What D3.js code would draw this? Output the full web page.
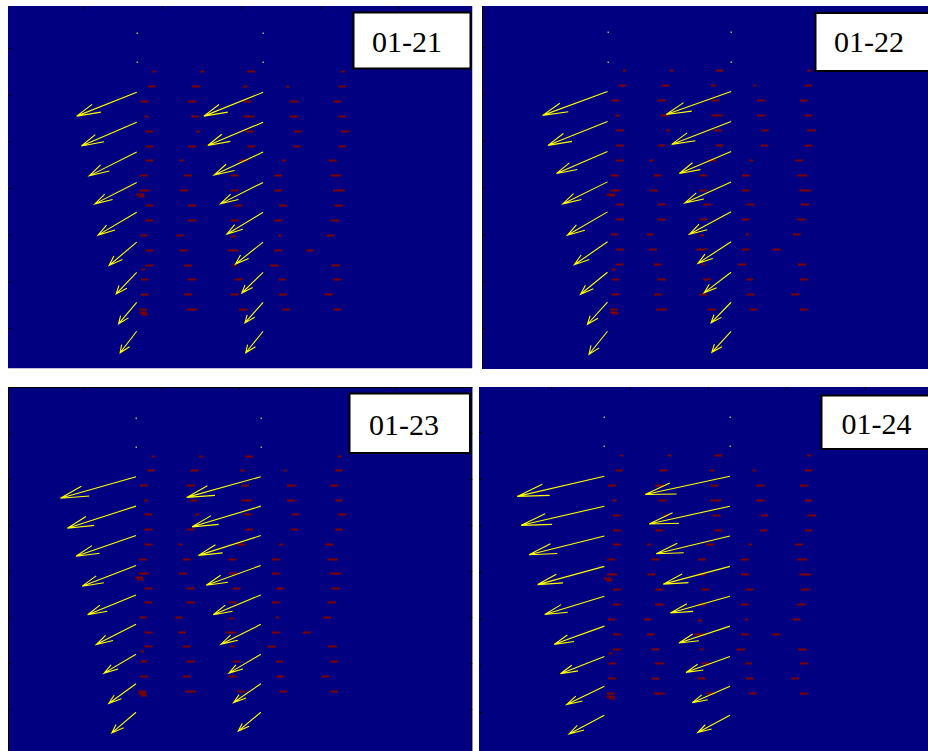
<!DOCTYPE html>
<html>
<head>
<meta charset="utf-8">
<script src="https://cdn.jsdelivr.net/npm/d3@7"></script>
<style>
  body { margin: 0; background: #fff; }
  svg { display: block; }
  .date { font-family: "Liberation Serif", "Times New Roman", Times, serif; font-size: 30px; }
</style>
</head>
<body>
<div id="chart"></div>
<script>
// panel dates
const dates = ["01-21", "01-22", "01-23", "01-24"];

// tick positions (no labels shown)
const xTicks = [1, 2, 3, 4, 5];
const yTicks = [1, 2, 3, 4, 5, 6, 7];

// tails of the wind arrows (data units)
const arrowCols = [1.68, 3.28];
const arrowRows = [7.33, 6.69, 6.05, 5.41, 4.77, 4.12, 3.48, 2.84, 2.19, 1.55, 0.93];

// wind components, per panel -> per column -> per row (top two rows are calm)
const windU = [
  [[0, 0, -0.76, -0.70, -0.60, -0.53, -0.49, -0.35, -0.26, -0.23, -0.21],
   [0, 0, -0.75, -0.70, -0.62, -0.54, -0.46, -0.35, -0.27, -0.23, -0.22]],
  [[0, 0, -0.84, -0.77, -0.66, -0.58, -0.52, -0.43, -0.35, -0.26, -0.24],
   [0, 0, -0.84, -0.77, -0.67, -0.60, -0.54, -0.43, -0.35, -0.26, -0.25]],
  [[0, 0, -0.97, -0.88, -0.77, -0.69, -0.62, -0.51, -0.41, -0.35, -0.31],
   [0, 0, -0.95, -0.88, -0.80, -0.70, -0.61, -0.51, -0.41, -0.35, -0.29]],
  [[0, 0, -1.11, -1.06, -0.96, -0.85, -0.76, -0.64, -0.56, -0.48, -0.45],
   [0, 0, -1.08, -1.03, -0.94, -0.85, -0.76, -0.65, -0.56, -0.48, -0.41]]
];
const windV = [
  [[0, 0, -0.51, -0.51, -0.51, -0.46, -0.49, -0.50, -0.46, -0.46, -0.46],
   [0, 0, -0.51, -0.50, -0.49, -0.46, -0.47, -0.47, -0.44, -0.44, -0.46]],
  [[0, 0, -0.51, -0.51, -0.47, -0.47, -0.50, -0.49, -0.47, -0.47, -0.49],
   [0, 0, -0.49, -0.49, -0.47, -0.45, -0.48, -0.46, -0.44, -0.44, -0.45]],
  [[0, 0, -0.47, -0.48, -0.45, -0.45, -0.43, -0.44, -0.41, -0.43, -0.45],
   [0, 0, -0.45, -0.45, -0.43, -0.43, -0.43, -0.43, -0.41, -0.41, -0.41]],
  [[0, 0, -0.43, -0.41, -0.40, -0.39, -0.39, -0.39, -0.37, -0.39, -0.40],
   [0, 0, -0.39, -0.38, -0.38, -0.38, -0.36, -0.36, -0.34, -0.35, -0.37]]
];

// small dark-red observation dashes: [x, y, length]
const obs = [
  [1.90, 6.51, 0.04], [2.51, 6.51, 0.05], [3.13, 6.51, 0.10], [4.29, 6.51, 0.05],
  [1.87, 6.19, 0.09], [2.43, 6.19, 0.10], [3.05, 6.19, 0.06], [3.59, 6.19, 0.04], [4.28, 6.19, 0.09],
  [1.78, 5.87, 0.10], [2.38, 5.87, 0.11], [3.08, 5.87, 0.10], [3.67, 5.87, 0.11], [4.22, 5.87, 0.10],
  [1.81, 5.55, 0.05], [2.42, 5.55, 0.10], [3.10, 5.55, 0.14], [3.67, 5.55, 0.11], [4.28, 5.55, 0.09],
  [1.84, 5.23, 0.10], [2.46, 5.23, 0.05], [3.11, 5.23, 0.10], [3.72, 5.23, 0.09], [4.32, 5.23, 0.11],
  [1.84, 4.91, 0.10], [2.38, 4.91, 0.10], [3.13, 4.91, 0.10], [3.71, 4.91, 0.09], [4.28, 4.91, 0.09],
  [1.84, 4.59, 0.10], [2.25, 4.59, 0.05], [3.03, 4.59, 0.11], [3.54, 4.59, 0.05], [4.16, 4.59, 0.10],
  [1.77, 4.27, 0.10], [2.33, 4.27, 0.10], [2.92, 4.27, 0.10], [3.47, 4.27, 0.10], [4.20, 4.27, 0.13],
  [1.78, 3.95, 0.13], [1.72, 3.87, 0.10], [1.74, 3.83, 0.08], [2.28, 3.95, 0.10], [2.92, 3.95, 0.10], [3.47, 3.95, 0.10], [4.24, 3.95, 0.15],
  [1.84, 3.64, 0.10], [2.38, 3.64, 0.10], [2.97, 3.64, 0.10], [3.53, 3.64, 0.10], [4.24, 3.64, 0.11],
  [1.84, 3.32, 0.10], [2.38, 3.32, 0.11], [2.92, 3.32, 0.10], [3.47, 3.32, 0.10], [4.19, 3.32, 0.11],
  [1.77, 3.00, 0.09], [2.23, 3.00, 0.09], [2.90, 2.98, 0.06], [3.49, 3.00, 0.04], [4.13, 3.00, 0.10],
  [1.84, 2.68, 0.10], [2.27, 2.68, 0.10], [2.90, 2.68, 0.14], [3.47, 2.68, 0.10], [3.87, 2.68, 0.10],
  [1.84, 2.36, 0.10], [1.76, 2.27, 0.05], [2.33, 2.36, 0.10], [2.92, 2.36, 0.05], [3.42, 2.36, 0.11], [4.20, 2.36, 0.11],
  [1.78, 2.04, 0.09], [2.38, 2.04, 0.11], [2.97, 2.04, 0.10], [3.52, 2.04, 0.09], [4.22, 2.04, 0.10],
  [1.78, 1.72, 0.10], [2.33, 1.72, 0.10], [2.92, 1.72, 0.10], [3.53, 1.72, 0.10], [4.11, 1.72, 0.10],
  [1.76, 1.40, 0.10], [1.76, 1.35, 0.10], [1.78, 1.31, 0.08], [2.38, 1.40, 0.14], [3.03, 1.40, 0.11], [3.57, 1.40, 0.10], [4.22, 1.40, 0.10]
];

// Layout of the four panels (pixels)
const W = 928, H = 751;
const panels = [
  { left: 8,   top: 6,   right: 472.5, bottom: 368.5, xr: [83, 399],  yr: [48, 328],  ticks: ["left", "top"],
    frame: [], box: [353.5, 12.5, 117, 56],   label: [407, 52] },
  { left: 482, top: 6,   right: 935,   bottom: 369,   xr: [555, 864], yr: [47, 328],  ticks: ["left"],
    frame: ["left"], box: [815.5, 13, 130, 58],     label: [869, 52] },
  { left: 8,   top: 387, right: 472.5, bottom: 762,   xr: [83, 395],  yr: [433, 709], ticks: ["left", "top", "right"],
    frame: ["top", "left", "right"], box: [349.5, 393.5, 120.5, 59.5], label: [404, 434.5] },
  { left: 479, top: 387, right: 935,   bottom: 762,   xr: [551, 865], yr: [432, 712], ticks: ["left", "top"],
    frame: [], box: [821.5, 395.5, 120, 53.5], label: [876.5, 434] }
];

const svg = d3.select("#chart").append("svg")
    .attr("width", W)
    .attr("height", H);

// MATLAB-style arrowhead proportions
const alpha = 0.33, beta = 0.33;

panels.forEach((p, i) => {
    const x = d3.scaleLinear().domain([1, 5]).range(p.xr);
    const y = d3.scaleLinear().domain([7, 1]).range(p.yr);

    svg.append("clipPath")
        .attr("id", `clip${i}`)
        .append("rect")
        .attr("x", p.left).attr("y", p.top)
        .attr("width", p.right - p.left).attr("height", p.bottom - p.top);

    const g = svg.append("g").attr("clip-path", `url(#clip${i})`);

    // background
    g.append("rect")
        .attr("x", p.left).attr("y", p.top)
        .attr("width", p.right - p.left).attr("height", p.bottom - p.top)
        .attr("fill", "#000080");

    // red observation dashes
    g.selectAll(".obs")
        .data(obs)
        .enter()
        .append("line")
        .attr("class", "obs")
        .attr("x1", d => x(d[0] - d[2] / 2))
        .attr("x2", d => x(d[0] + d[2] / 2))
        .attr("y1", d => Math.round(y(d[1])) + 0.5)
        .attr("y2", d => Math.round(y(d[1])) + 0.5)
        .attr("stroke", "#800000")
        .attr("stroke-width", 2);

    // wind arrows
    const vecs = [];
    arrowCols.forEach((cx, c) => {
        arrowRows.forEach((ry, r) => {
            vecs.push({ x: cx, y: ry, u: windU[i][c][r], v: windV[i][c][r] });
        });
    });

    const line = d3.line().x(d => x(d[0])).y(d => y(d[1]));

    g.selectAll(".calm")
        .data(vecs.filter(d => d.u === 0 && d.v === 0))
        .enter()
        .append("rect")
        .attr("class", "calm")
        .attr("x", d => Math.round(x(d.x)) - 0.5)
        .attr("y", d => Math.round(y(d.y)) - 0.5)
        .attr("width", 1.5).attr("height", 1.5)
        .attr("fill", "#b0b060");

    g.selectAll(".arrow")
        .data(vecs.filter(d => d.u !== 0 || d.v !== 0))
        .enter()
        .append("path")
        .attr("class", "arrow")
        .attr("d", d => {
            const tx = d.x + d.u, ty = d.y + d.v;
            const b1 = [tx - alpha * (d.u + beta * d.v), ty - alpha * (d.v - beta * d.u)];
            const b2 = [tx - alpha * (d.u - beta * d.v), ty - alpha * (d.v + beta * d.u)];
            return line([[d.x, d.y], [tx, ty]]) + line([b1, [tx, ty], b2]);
        })
        .attr("fill", "none")
        .attr("stroke", "#ffff00")
        .attr("stroke-width", 1.1);

    // inward ticks
    const tickG = g.append("g").attr("class", "ticks");
    if (p.ticks.includes("left")) {
        tickG.append("g")
            .attr("transform", `translate(${p.left},0)`)
            .call(d3.axisLeft(y).tickValues(yTicks).tickSize(-3).tickFormat(""));
    }
    if (p.ticks.includes("right")) {
        tickG.append("g")
            .attr("transform", `translate(${p.right},0)`)
            .call(d3.axisRight(y).tickValues(yTicks).tickSize(-3).tickFormat(""));
    }
    if (p.ticks.includes("top")) {
        tickG.append("g")
            .attr("transform", `translate(0,${p.top})`)
            .call(d3.axisTop(x).tickValues(xTicks).tickSize(-3).tickFormat(""));
    }
    tickG.selectAll(".domain").remove();
    tickG.selectAll("line").attr("stroke", "#000").attr("stroke-width", 1);

    // axis frame edges that show in the picture
    const edges = {
        left:  [p.left + 0.5, p.top, p.left + 0.5, p.bottom],
        right: [p.right - 0.5, p.top, p.right - 0.5, p.bottom],
        top:   [p.left, p.top + 0.5, p.right, p.top + 0.5]
    };
    p.frame.forEach(side => {
        const e = edges[side];
        g.append("line")
            .attr("x1", e[0]).attr("y1", e[1]).attr("x2", e[2]).attr("y2", e[3])
            .attr("stroke", "#000")
            .attr("stroke-width", 1);
    });

    // date label box
    g.append("rect")
        .attr("x", p.box[0]).attr("y", p.box[1])
        .attr("width", p.box[2]).attr("height", p.box[3])
        .attr("fill", "#fff")
        .attr("stroke", "#000")
        .attr("stroke-width", 2);

    g.append("text")
        .attr("class", "date")
        .attr("x", p.label[0])
        .attr("y", p.label[1])
        .attr("text-anchor", "middle")
        .attr("fill", "#000")
        .text(dates[i]);
});
</script>
</body>
</html>
